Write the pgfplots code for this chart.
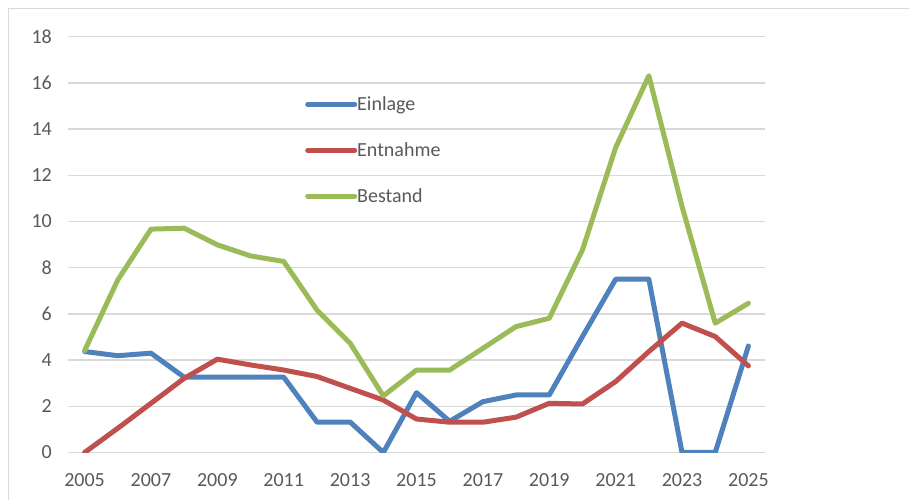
\documentclass[border=0pt]{standalone}
\usepackage{fontspec}
\setmainfont{Carlito}
\usepackage{pgfplots}
\usepackage{pgfplotstable}
\pgfplotsset{compat=1.18}
\definecolor{cblue}{HTML}{4F81BD}
\definecolor{cred}{HTML}{C0504D}
\definecolor{cgreen}{HTML}{9BBB59}
\definecolor{cgrid}{HTML}{D9D9D9}
\definecolor{ctext}{HTML}{595959}
\pgfplotstableread{
year einlage entnahme bestand
2005 4.37 0.00 4.41
2006 4.19 1.05 7.47
2007 4.30 2.13 9.67
2008 3.26 3.21 9.71
2009 3.26 4.04 8.99
2010 3.26 3.79 8.51
2011 3.26 3.57 8.27
2012 1.32 3.29 6.17
2013 1.32 2.78 4.73
2014 0.00 2.27 2.45
2015 2.59 1.45 3.57
2016 1.35 1.31 3.57
2017 2.20 1.31 4.51
2018 2.49 1.53 5.45
2019 2.49 2.13 5.81
2020 5.02 2.10 8.77
2021 7.50 3.07 13.20
2022 7.50 4.37 16.31
2023 0.00 5.60 10.65
2024 0.00 5.02 5.60
2025 4.61 3.75 6.46
}\datatable
\begin{document}
\begin{tikzpicture}
\path[use as bounding box] (0,0) rectangle (909pt,500pt);
\draw[cgrid, line width=1.5pt] (8.3pt,0pt) -- (8.3pt,491.7pt) -- (909pt,491.7pt);
\begin{axis}[
  at={(68pt,47.5pt)}, anchor=south west,
  scale only axis, width=697pt, height=415.8pt,
  xmin=2004.5, xmax=2025.5, ymin=0, ymax=18,
  axis line style={draw=none},
  xtick={2005,2007,...,2025}, ytick={0,2,...,18},
  ymajorgrids, grid style={cgrid, line width=1.5pt},
  major tick length=0pt,
  /pgf/number format/assume math mode=true,
  /pgf/number format/1000 sep={},
  ticklabel style={font=\fontsize{20}{24}\selectfont, text=ctext},
  yticklabel style={inner sep=0pt, anchor=east, xshift=-16pt},
  xticklabel style={inner sep=0pt, anchor=north, yshift=-20.5pt},
  legend style={at={(302pt-68pt,452.5pt-94.5pt)}, anchor=north west, draw=none, fill=none,
    font=\fontsize{20}{24}\selectfont, text=ctext, row sep=30.5pt,
    nodes={inner sep=0pt}},
  legend cell align=left,
  legend image code/.code={\draw[#1, line cap=round] (0pt,0pt) -- (47pt,0pt);},
  /tikz/every even column/.append style={column sep=0pt},
  every axis plot/.append style={line width=5pt, line join=round, line cap=round},
]
\addplot[cblue] table[x=year, y=einlage] {\datatable};
\addplot[cred] table[x=year, y=entnahme] {\datatable};
\addplot[cgreen] table[x=year, y=bestand] {\datatable};
\legend{Einlage,Entnahme,Bestand}
\end{axis}
\end{tikzpicture}
\end{document}
